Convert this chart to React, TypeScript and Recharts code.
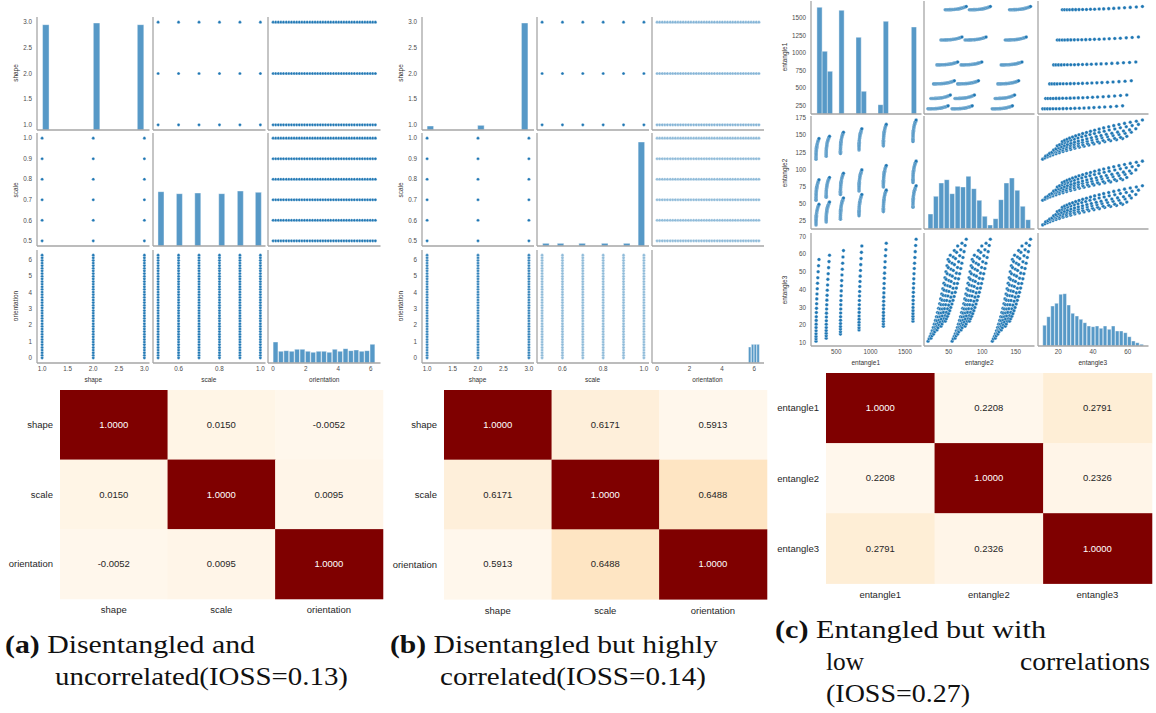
import React from "react";
import { ScatterChart, Scatter, ComposedChart, Bar, XAxis, YAxis } from "recharts";

// ---------- factor values (panels a, b) ----------
const SHAPES = [1, 2, 3];
const SCALES = [0.5, 0.6, 0.7, 0.8, 0.9, 1.0];
const ORIENTS = [
  0, 0.16, 0.32, 0.48, 0.64, 0.81, 0.97, 1.13, 1.29, 1.45, 1.61, 1.77, 1.93, 2.09, 2.26, 2.42, 2.58, 2.74, 2.9, 3.06,
  3.22, 3.38, 3.54, 3.71, 3.87, 4.03, 4.19, 4.35, 4.51, 4.67, 4.83, 4.99, 5.16, 5.32, 5.48, 5.64, 5.8, 5.96, 6.12, 6.28,
];
const FACTORS = ["shape", "scale", "orientation"];
const ENTANGLED = ["entangle1", "entangle2", "entangle3"];

const A_SHAPE_BINS = [1.067, 2.06, 2.92];
const A_SHAPE_COUNTS = [316, 321, 316];
const A_SCALE_BINS = [0.514, 0.604, 0.694, 0.811, 0.902, 0.99];
const A_SCALE_COUNTS = [163, 157, 159, 157, 165, 161];
const A_ORIENT_BINS = [
  0.165, 0.496, 0.826, 1.157, 1.488, 1.818, 2.149, 2.479, 2.81, 3.14, 3.471, 3.802, 4.132, 4.463, 4.793, 5.124, 5.455,
  5.785, 6.116,
];
const A_ORIENT_COUNTS = [63, 35, 37, 35, 41, 41, 35, 32, 35, 35, 32, 41, 35, 43, 37, 39, 35, 37, 56];

const B_SHAPE_BINS = [1.057, 2.05, 2.91];
const B_SHAPE_COUNTS = [12, 14, 321];
const B_SCALE_BINS = [0.519, 0.591, 0.697, 0.808, 0.916, 0.988];
const B_SCALE_COUNTS = [8, 8, 8, 8, 8, 312];
const B_ORIENT_BINS = [5.72, 5.9, 6.07, 6.24];
const B_ORIENT_COUNTS = [48, 56, 56, 56];

const C_E1_BINS = [258, 334, 410, 578, 826, 902, 1146, 1222, 1630];
const C_E1_COUNTS = [320, 188, 128, 311, 230, 68, 28, 278, 261];
const C_E2_BINS = [
  23.1, 31.2, 39.3, 47.4, 55.5, 63.6, 71.7, 79.8, 87.9, 96.0, 104.1, 112.2, 120.3, 128.4, 136.5, 144.6, 152.7, 160.8, 168.9,
];
const C_E2_COUNTS = [45, 98, 138, 148, 106, 128, 126, 158, 121, 86, 38, 12, 31, 88, 138, 153, 116, 68, 28];
const C_E3_BINS = [
  12.2, 14.5, 16.8, 19.1, 21.5, 23.8, 26.1, 28.4, 30.8, 33.1, 35.4, 37.7, 40.1, 42.4, 44.7, 47.0, 49.4, 51.7, 54.0, 56.3,
  58.7, 61.0, 63.3, 65.6, 68.0,
];
const C_E3_COUNTS = [62, 88, 120, 128, 155, 157, 123, 98, 90, 80, 70, 60, 58, 60, 53, 60, 50, 60, 45, 45, 40, 28, 15, 10, 5];

// ---------- entangled samples (panel c), one row per scale level ----------
const E1_BY_LEVEL = [
  [207, 207, 207, 207, 208, 208, 209, 210, 211, 212, 214, 216, 218, 221, 225, 229, 233, 238, 244, 250],
  [355, 355, 355, 355, 356, 356, 357, 358, 359, 361, 363, 365, 368, 371, 375, 379, 384, 390, 396, 403],
  [562, 562, 562, 562, 563, 563, 564, 565, 566, 567, 569, 571, 574, 577, 580, 584, 589, 594, 599, 606],
  [832, 832, 832, 832, 833, 833, 834, 835, 836, 837, 839, 841, 843, 846, 849, 853, 857, 862, 867, 873],
  [1186, 1186, 1186, 1186, 1187, 1187, 1188, 1189, 1190, 1191, 1193, 1195, 1197, 1200, 1203, 1207, 1211, 1216, 1222, 1228],
  [1616, 1616, 1616, 1616, 1617, 1617, 1618, 1619, 1620, 1622, 1623, 1626, 1628, 1631, 1635, 1639, 1644, 1649, 1655, 1662],
];
const E2_BY_LEVEL = [
  [19, 20.6, 22.2, 23.7, 25.3, 26.9, 28.5, 30.1, 31.6, 33.2, 34.8, 36.4, 37.9, 39.5, 41.1, 42.7, 44.3, 45.8, 47.4, 49],
  [23.4, 24.9, 26.4, 28.0, 29.5, 31.0, 32.5, 34.0, 35.6, 37.1, 38.6, 40.1, 41.7, 43.2, 44.7, 46.2, 47.7, 49.3, 50.8, 52.3],
  [27.4, 29.0, 30.7, 32.3, 33.9, 35.5, 37.2, 38.8, 40.4, 42.0, 43.7, 45.3, 46.9, 48.5, 50.2, 51.8, 53.4, 55.0, 56.7, 58.3],
  [32.4, 34.0, 35.7, 37.3, 38.9, 40.5, 42.2, 43.8, 45.4, 47.0, 48.7, 50.3, 51.9, 53.5, 55.2, 56.8, 58.4, 60.0, 61.7, 63.3],
  [38.4, 40.0, 41.7, 43.3, 45.0, 46.6, 48.3, 49.9, 51.6, 53.2, 54.9, 56.5, 58.2, 59.8, 61.5, 63.1, 64.8, 66.4, 68.0, 69.7],
  [44.8, 46.4, 48.1, 49.7, 51.4, 53.0, 54.7, 56.3, 58.0, 59.6, 61.3, 62.9, 64.6, 66.2, 67.9, 69.5, 71.2, 72.8, 74.4, 76.1],
];
const E3_BY_LEVEL = [
  [11, 12.3, 13.7, 15.2, 16.9, 18.7, 20.6, 22.7, 24.8, 27.1, 29.5, 32.1, 34.8, 37.6, 40.5, 43.6, 46.7, 50.1, 53.5, 57],
  [12.7, 14.0, 15.5, 17.0, 18.7, 20.5, 22.5, 24.6, 26.8, 29.1, 31.5, 34.1, 36.8, 39.7, 42.6, 45.8, 49.0, 52.4, 55.8, 59.4],
  [15, 16.3, 17.8, 19.3, 21.0, 22.8, 24.8, 26.9, 29.1, 31.5, 33.9, 36.6, 39.3, 42.2, 45.1, 48.3, 51.5, 54.9, 58.4, 62],
  [17.3, 18.6, 20.1, 21.7, 23.4, 25.2, 27.2, 29.3, 31.5, 33.9, 36.4, 39.0, 41.8, 44.6, 47.6, 50.8, 54.1, 57.5, 61.0, 64.6],
  [19.4, 20.7, 22.2, 23.7, 25.4, 27.2, 29.2, 31.3, 33.5, 35.8, 38.2, 40.8, 43.5, 46.4, 49.3, 52.5, 55.7, 59.1, 62.5, 66.1],
  [22.3, 23.6, 25.0, 26.5, 28.2, 30.0, 31.9, 34.0, 36.2, 38.5, 40.9, 43.5, 46.1, 49.0, 51.9, 54.9, 58.1, 61.4, 64.9, 68.4],
];
// entangle2 shift of the three shape groups
const E2_SHIFT = [0, 36, 96];

// correlation matrices
const CORR_A = [
  [1.0, 0.015, -0.0052],
  [0.015, 1.0, 0.0095],
  [-0.0052, 0.0095, 1.0],
];
const CORR_B = [
  [1.0, 0.6171, 0.5913],
  [0.6171, 1.0, 0.6488],
  [0.5913, 0.6488, 1.0],
];
const CORR_C = [
  [1.0, 0.2208, 0.2791],
  [0.2208, 1.0, 0.2326],
  [0.2791, 0.2326, 1.0],
];

// ---------- styling ----------
const SANS = "Liberation Sans, Arial, sans-serif";
const SERIF = "Liberation Serif, DejaVu Serif, serif";
const BLUE = "#1f77b4";
const SPINE = "#a6a6a6";
const PAD = { l: 30, r: 6, t: 6, b: 16 };
const tickStyle = { fontSize: 6.3, fill: "#4d4d4d", fontFamily: SANS };

type Ax = { domain: [number, number]; yTicks: number[]; xTicks: number[]; fmt: (v: number) => string };
type Pt = { x: number; y: number };

const f1 = (v: number) => v.toFixed(1);
const f0 = (v: number) => String(v);

const AX_SHAPE: Ax = { domain: [0.9, 3.1], yTicks: [1, 1.5, 2, 2.5, 3], xTicks: [1, 1.5, 2, 2.5, 3], fmt: f1 };
const AX_SCALE: Ax = { domain: [0.475, 1.025], yTicks: [0.5, 0.6, 0.7, 0.8, 0.9, 1.0], xTicks: [0.6, 0.8, 1.0], fmt: f1 };
const AX_ORIENT: Ax = { domain: [-0.314, 6.594], yTicks: [0, 1, 2, 3, 4, 5, 6], xTicks: [0, 2, 4, 6], fmt: f0 };
const AX_E1: Ax = { domain: [134, 1740], yTicks: [250, 500, 750, 1000, 1250, 1500], xTicks: [500, 1000, 1500], fmt: f0 };
const AX_E2: Ax = { domain: [13, 178], yTicks: [25, 50, 75, 100, 125, 150, 175], xTicks: [50, 100, 150], fmt: f0 };
const AX_E3: Ax = { domain: [8.3, 71.9], yTicks: [10, 20, 30, 40, 50, 60, 70], xTicks: [20, 40, 60], fmt: f0 };

const FACTOR_VALUES = [SHAPES, SCALES, ORIENTS];
const gridPoints = (xi: number, yi: number): Pt[] =>
  FACTOR_VALUES[xi].flatMap((x) => FACTOR_VALUES[yi].map((y) => ({ x, y })));

const entPoints = (xi: number, yi: number): Pt[] => {
  const shifts = xi === 1 || yi === 1 ? E2_SHIFT : [0];
  return shifts.flatMap((s) =>
    E1_BY_LEVEL.flatMap((lvl, l) =>
      lvl.map((_, k) => {
        const v = [E1_BY_LEVEL[l][k], E2_BY_LEVEL[l][k] + s, E3_BY_LEVEL[l][k]];
        return { x: v[xi], y: v[yi] };
      })
    )
  );
};

const OR_RD = ["#fff7ec", "#fee8c8", "#fdd49e", "#fdbb84", "#fc8d59", "#ef6548", "#d7301f", "#b30000", "#7f0000"];
function orRd(t: number) {
  const s = Math.max(0, Math.min(1, t)) * 8;
  const i = Math.min(7, Math.floor(s));
  const f = s - i;
  const a = OR_RD[i], b = OR_RD[i + 1];
  const ch = (h: string, o: number) => parseInt(h.slice(o, o + 2), 16);
  const mix = (o: number) => Math.round(ch(a, o) + (ch(b, o) - ch(a, o)) * f);
  return `rgb(${mix(1)},${mix(3)},${mix(5)})`;
}

// axes get 1px of room (a zero-sized axis is not drawn)
function xAxisEl(ax: Ax, show: boolean) {
  return (
    <XAxis
      type="number"
      dataKey="x"
      domain={ax.domain}
      ticks={ax.xTicks}
      allowDataOverflow
      interval={0}
      height={1}
      tickSize={0}
      tickMargin={4}
      tickLine={false}
      tick={show ? tickStyle : false}
      tickFormatter={ax.fmt}
      axisLine={{ stroke: SPINE, strokeWidth: 1.3 }}
    />
  );
}

function yAxisEl(ax: Ax, show: boolean, id: string | number = 0, withKey = true) {
  return (
    <YAxis
      yAxisId={id}
      type="number"
      dataKey={withKey ? "y" : undefined}
      domain={ax.domain}
      ticks={ax.yTicks}
      allowDataOverflow
      interval={0}
      width={1}
      tickSize={0}
      tickMargin={5}
      tickLine={false}
      tick={show ? tickStyle : false}
      tickFormatter={ax.fmt}
      axisLine={{ stroke: SPINE, strokeWidth: 1.3 }}
    />
  );
}

type CellProps = { left: number; top: number; w: number; h: number; xa: Ax; ya: Ax; showX: boolean; showY: boolean };

const cellMargin = { top: PAD.t, right: PAD.r, bottom: PAD.b - 1, left: PAD.l - 1 };

function ScatterCell(p: CellProps & { points: Pt[]; opacity: number; r: number }) {
  const dot = (d: any) => (
    <circle cx={d.cx} cy={d.cy} r={p.r} fill={BLUE} fillOpacity={p.opacity} stroke="#ffffff" strokeWidth={0.35} />
  );
  return (
    <div style={{ position: "absolute", left: p.left - PAD.l, top: p.top - PAD.t }}>
      <ScatterChart width={p.w + PAD.l + PAD.r} height={p.h + PAD.t + PAD.b} margin={cellMargin}>
        {xAxisEl(p.xa, p.showX)}
        {yAxisEl(p.ya, p.showY)}
        <Scatter data={p.points} shape={dot} isAnimationActive={false} />
      </ScatterChart>
    </div>
  );
}

function HistCell(p: CellProps & { bins: number[]; counts: number[]; barSize: number }) {
  const data = p.bins.map((x, i) => ({ x, n: p.counts[i] }));
  return (
    <div style={{ position: "absolute", left: p.left - PAD.l, top: p.top - PAD.t }}>
      <ComposedChart width={p.w + PAD.l + PAD.r} height={p.h + PAD.t + PAD.b} margin={cellMargin} data={data}>
        {xAxisEl(p.xa, p.showX)}
        {yAxisEl(p.ya, p.showY, "row", false)}
        <YAxis yAxisId="cnt" orientation="right" type="number" domain={[0, 339]} allowDataOverflow hide />
        <Bar
          yAxisId="cnt"
          dataKey="n"
          barSize={p.barSize}
          fill={BLUE}
          fillOpacity={0.75}
          stroke="#ffffff"
          strokeWidth={0.4}
          isAnimationActive={false}
        />
      </ComposedChart>
    </div>
  );
}

type Hist = { bins: number[]; counts: number[]; barSize: number };

function PairGrid(g: {
  cols: number[];
  rows: number[];
  w: number;
  h: number;
  axes: Ax[];
  names: string[];
  hists: Hist[];
  points: (xi: number, yi: number) => Pt[];
  opacity: number[][];
  dotR: number;
  yLabelX: number;
  xLabelY: number;
}) {
  const cells: React.ReactNode[] = [];
  for (let r = 0; r < 3; r++) {
    for (let c = 0; c < 3; c++) {
      const base = {
        left: g.cols[c],
        top: g.rows[r],
        w: g.w,
        h: g.h,
        xa: g.axes[c],
        ya: g.axes[r],
        showX: r === 2,
        showY: c === 0,
      };
      cells.push(
        r === c ? (
          <HistCell key={`${r}${c}`} {...base} {...g.hists[r]} />
        ) : (
          <ScatterCell key={`${r}${c}`} {...base} points={g.points(c, r)} opacity={g.opacity[r][c]} r={g.dotR} />
        )
      );
    }
  }
  const lab = { position: "absolute" as const, fontSize: 6.5, color: "#333", whiteSpace: "nowrap" as const, fontFamily: SANS };
  return (
    <>
      {cells}
      {g.names.map((n, i) => (
        <div
          key={"y" + n}
          style={{ ...lab, left: g.yLabelX, top: g.rows[i] + g.h / 2, transform: "translate(-50%,-50%) rotate(-90deg)" }}
        >
          {n}
        </div>
      ))}
      {g.names.map((n, i) => (
        <div key={"x" + n} style={{ ...lab, left: g.cols[i] + g.w / 2, top: g.xLabelY, transform: "translate(-50%,-50%)" }}>
          {n}
        </div>
      ))}
    </>
  );
}

function Heatmap(p: { left: number; top: number; w: number; h: number; names: string[]; corr: number[][] }) {
  const PL = 75, PB = 24;
  const flat = p.corr.flat();
  const lo = Math.min(...flat), hi = Math.max(...flat);
  const cells = p.corr.flatMap((row, i) => row.map((v, j) => ({ x: j, y: i, v })));
  const cw = p.w / 3, ch = p.h / 3;
  const shape = (d: any) => {
    const t = (d.payload.v - lo) / (hi - lo);
    return (
      <g>
        <rect x={d.cx - cw / 2} y={d.cy - ch / 2} width={cw + 0.6} height={ch + 0.6} fill={orRd(t)} />
        <text
          x={d.cx}
          y={d.cy}
          dy="0.35em"
          textAnchor="middle"
          fontSize={9.5}
          fontFamily={SANS}
          fill={t > 0.5 ? "#ffffff" : "#262626"}
        >
          {d.payload.v.toFixed(4)}
        </text>
      </g>
    );
  };
  const labelTick = { fontSize: 9.5, fill: "#262626", fontFamily: SANS };
  return (
    <div style={{ position: "absolute", left: p.left - PL, top: p.top }}>
      <ScatterChart width={p.w + PL + 2} height={p.h + PB} margin={{ top: 0, right: 2, bottom: PB - 1, left: PL - 1 }}>
        <XAxis
          type="number"
          dataKey="x"
          domain={[-0.5, 2.5]}
          ticks={[0, 1, 2]}
          interval={0}
          height={1}
          tickSize={0}
          tickMargin={8}
          tickLine={false}
          axisLine={false}
          tick={labelTick}
          tickFormatter={(v: number) => p.names[v]}
        />
        <YAxis
          type="number"
          dataKey="y"
          domain={[-0.5, 2.5]}
          reversed
          ticks={[0, 1, 2]}
          interval={0}
          width={1}
          tickSize={0}
          tickMargin={7}
          tickLine={false}
          axisLine={false}
          tick={labelTick}
          tickFormatter={(v: number) => p.names[v]}
        />
        <Scatter data={cells} shape={shape} isAnimationActive={false} />
      </ScatterChart>
    </div>
  );
}

const SOLID = [
  [1, 1, 1],
  [1, 1, 1],
  [1, 1, 1],
];
const FADED = [
  [1, 1, 0.55],
  [1, 1, 0.5],
  [0.9, 0.5, 1],
];

export default function App() {
  const axesAB = [AX_SHAPE, AX_SCALE, AX_ORIENT];
  const axesC = [AX_E1, AX_E2, AX_E3];
  const histA: Hist[] = [
    { bins: A_SHAPE_BINS, counts: A_SHAPE_COUNTS, barSize: 6.5 },
    { bins: A_SCALE_BINS, counts: A_SCALE_COUNTS, barSize: 6 },
    { bins: A_ORIENT_BINS, counts: A_ORIENT_COUNTS, barSize: 5.4 },
  ];
  const histB: Hist[] = [
    { bins: B_SHAPE_BINS, counts: B_SHAPE_COUNTS, barSize: 6.5 },
    { bins: B_SCALE_BINS, counts: B_SCALE_COUNTS, barSize: 6.5 },
    { bins: B_ORIENT_BINS, counts: B_ORIENT_COUNTS, barSize: 2.8 },
  ];
  const histC: Hist[] = [
    { bins: C_E1_BINS, counts: C_E1_COUNTS, barSize: 5.2 },
    { bins: C_E2_BINS, counts: C_E2_COUNTS, barSize: 5.5 },
    { bins: C_E3_BINS, counts: C_E3_COUNTS, barSize: 4 },
  ];
  const rowsAB = [16.5, 133, 249.5];

  return (
    <div
      style={{
        position: "absolute",
        left: 0,
        top: 0,
        width: 1156,
        height: 713,
        background: "#ffffff",
        overflow: "hidden",
        fontFamily: SANS,
      }}
    >
      <PairGrid
        cols={[37, 152.5, 268]}
        rows={rowsAB}
        w={112.5}
        h={113}
        axes={axesAB}
        names={FACTORS}
        hists={histA}
        points={gridPoints}
        opacity={SOLID}
        dotR={1.55}
        yLabelX={15}
        xLabelY={379}
      />
      <PairGrid
        cols={[421.5, 536.5, 651.5]}
        rows={rowsAB}
        w={112}
        h={113}
        axes={axesAB}
        names={FACTORS}
        hists={histB}
        points={gridPoints}
        opacity={FADED}
        dotR={1.55}
        yLabelX={400}
        xLabelY={379}
      />
      <PairGrid
        cols={[810.5, 924, 1037.5]}
        rows={[0.5, 116, 233]}
        w={110.5}
        h={113}
        axes={axesC}
        names={ENTANGLED}
        hists={histC}
        points={entPoints}
        opacity={SOLID}
        dotR={1.8}
        yLabelX={784}
        xLabelY={362}
      />

      <Heatmap left={60} top={390} w={322.7} h={208.7} names={FACTORS} corr={CORR_A} />
      <Heatmap left={444} top={390} w={322.7} h={209} names={FACTORS} corr={CORR_B} />
      <Heatmap left={826} top={372.7} w={325.7} h={210.3} names={ENTANGLED} corr={CORR_C} />

      <svg width={1156} height={713} style={{ position: "absolute", left: 0, top: 0, pointerEvents: "none" }}>
        <g fontFamily={SERIF} fontSize={25} fill="#111111">
          <text x={5} y={653} textLength={250} lengthAdjust="spacingAndGlyphs">
            <tspan fontWeight="bold">(a)</tspan> Disentangled and
          </text>
          <text x={55} y={685} textLength={293} lengthAdjust="spacingAndGlyphs">
            uncorrelated(IOSS=0.13)
          </text>
          <text x={390} y={653} textLength={328} lengthAdjust="spacingAndGlyphs">
            <tspan fontWeight="bold">(b)</tspan> Disentangled but highly
          </text>
          <text x={440} y={685} textLength={266} lengthAdjust="spacingAndGlyphs">
            correlated(IOSS=0.14)
          </text>
          <text x={775} y={638} textLength={271} lengthAdjust="spacingAndGlyphs">
            <tspan fontWeight="bold">(c)</tspan> Entangled but with
          </text>
          <text x={826} y={670} textLength={38} lengthAdjust="spacingAndGlyphs">
            low
          </text>
          <text x={1020} y={670} textLength={130} lengthAdjust="spacingAndGlyphs">
            correlations
          </text>
          <text x={826} y={702} textLength={144} lengthAdjust="spacingAndGlyphs">
            (IOSS=0.27)
          </text>
        </g>
      </svg>
    </div>
  );
}
